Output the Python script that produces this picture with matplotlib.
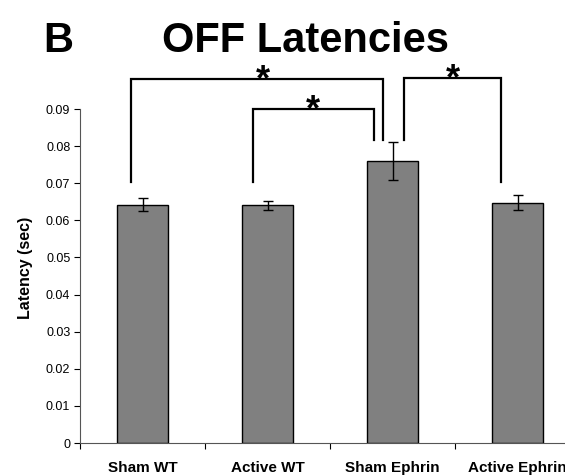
import matplotlib
matplotlib.use("Agg")
import matplotlib.pyplot as plt

plt.rcParams['font.family'] = ['Liberation Sans', 'DejaVu Sans']

# Data
groups = ["Sham WT", "Active WT", "Sham Ephrin", "Active Ephrin"]
latency = [0.0642, 0.0641, 0.0759, 0.0648]
sem = [0.0017, 0.0012, 0.0051, 0.0020]
yticks = [0, 0.01, 0.02, 0.03, 0.04, 0.05, 0.06, 0.07, 0.08, 0.09]
ytick_labels = ["0", "0.01", "0.02", "0.03", "0.04", "0.05", "0.06", "0.07", "0.08", "0.09"]

# Significance brackets: (left bar, right bar, bracket height, left-leg bottom, right-leg bottom,
#                         left offset, right offset)
brackets = [
    (0, 2, 0.0980, 0.0704, 0.0816, -0.094, -0.08),
    (1, 2, 0.0899, 0.0704, 0.0816, -0.12, -0.15),
    (2, 3, 0.0983, 0.0816, 0.0704, 0.09, -0.13),
]

W, H = 565, 476
fig = plt.figure(figsize=(W / 100, H / 100), dpi=100)
ax = fig.add_axes([80 / W, (H - 443) / H, 500 / W, (443 - 109) / H])

x = list(range(len(groups)))
ax.bar(x, latency, width=0.41, color="#808080", edgecolor="#000000", linewidth=1.0, zorder=2)
ax.errorbar(x, latency, yerr=sem, fmt="none", ecolor="black", elinewidth=1.0,
            capsize=3.5, capthick=1.0, zorder=3)

ax.set_xlim(-0.5, len(groups) - 0.5)
ax.set_ylim(0, 0.09)
ax.set_yticks(yticks)
ax.set_yticklabels(ytick_labels, fontsize=9)
ax.set_xticks([i + 0.5 for i in range(-1, len(groups))])
ax.set_xticklabels([])
ax.set_xticks(x, minor=True)
ax.set_xticklabels(groups, minor=True, fontsize=11, fontweight="bold")
ax.tick_params(axis="x", which="minor", length=0, pad=13)
ax.tick_params(axis="x", which="major", length=4, width=0.8, direction="out")
ax.tick_params(axis="y", length=4, width=0.8, direction="out", pad=3)
ax.spines["top"].set_visible(False)
ax.spines["right"].set_visible(False)
ax.spines["left"].set_color("#555555")
ax.spines["bottom"].set_color("#555555")
ax.set_ylabel("Latency (sec)", fontsize=11.5, fontweight="bold")
ax.yaxis.set_label_coords(-0.094, 0.524)

for a, b, top, lb, rb, lo, ro in brackets:
    xl, xr = a + lo, b + ro
    ax.plot([xl, xl, xr, xr], [lb, top, top, rb], color="black", lw=1.6,
            clip_on=False, solid_joinstyle="miter", zorder=4)
    ax.text((xl + xr) / 2 + (0.05 if a == 0 else 0), top - 0.0004, "*", ha="center",
            va="center", fontsize=26, fontweight="bold", clip_on=False)

fig.text(43 / W, (H - 52) / H, "B", fontsize=30, fontweight="bold", va="baseline", ha="left")
fig.text(305 / W, (H - 52) / H, "OFF Latencies", fontsize=30, fontweight="bold",
         va="baseline", ha="center")

fig.savefig("out.png", dpi=100)
